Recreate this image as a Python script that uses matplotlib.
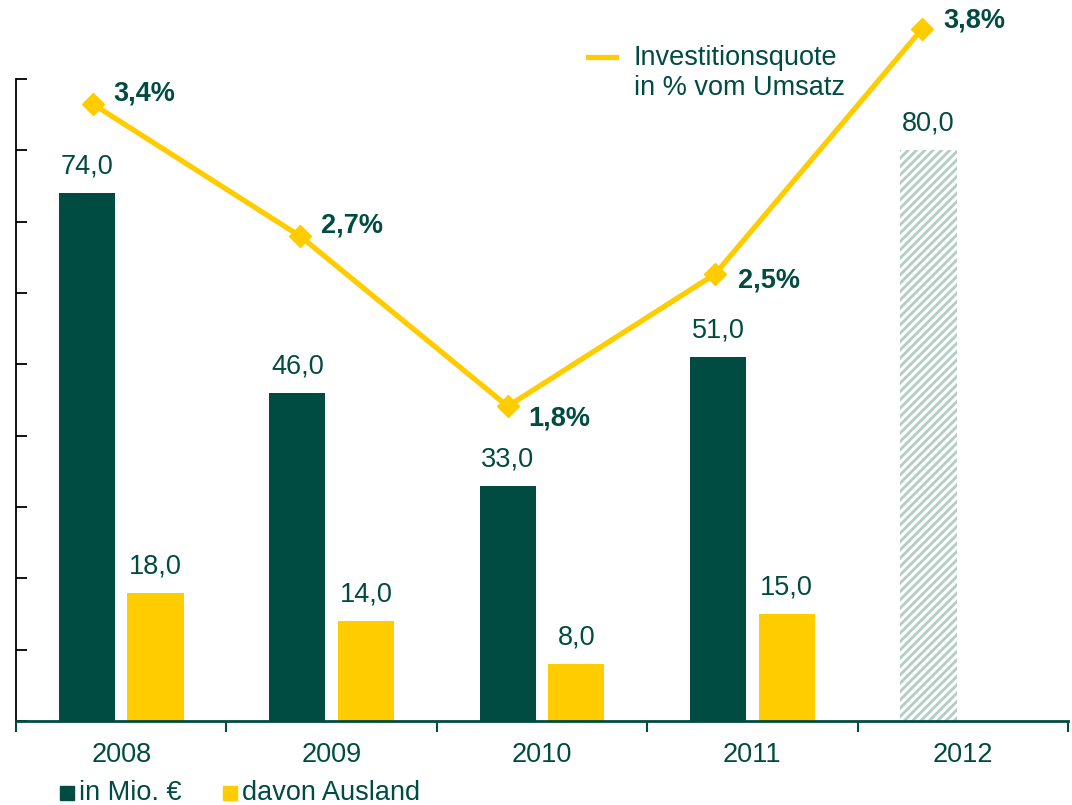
import numpy as np
import matplotlib
matplotlib.use("Agg")
import matplotlib.pyplot as plt
from matplotlib.patches import Rectangle
from matplotlib.lines import Line2D

plt.rcParams['font.family'] = ['Liberation Sans', 'DejaVu Sans']

# ----- data -----
years = ["2008", "2009", "2010", "2011", "2012"]
invest_total = [74.0, 46.0, 33.0, 51.0, 80.0]   # in Mio. €
invest_abroad = [18.0, 14.0, 8.0, 15.0]          # davon Ausland (no 2012 value)
quote_pct = [3.4, 2.7, 1.8, 2.5, 3.8]            # Investitionsquote in % vom Umsatz
planned = [False, False, False, False, True]     # 2012 drawn hatched

# label offsets for the percent labels (pixels)
pct_offsets = [(20, 11), (21, 11), (21, -12), (23, -6), (21, 8)]

GREEN = "#004b42"
YELLOW = "#ffcc00"
HATCH = "#b3ccc4"
FS = 19.5

W, H = 1072, 805
fig = plt.figure(figsize=(W / 100, H / 100), dpi=100)
ax = fig.add_axes([16 / W, (H - 721) / H, (1068 - 16) / W, (721 - 79) / H])

x = np.arange(len(years))
bw = 0.267
off = 0.163

# dark bars
for i, v in enumerate(invest_total):
    if planned[i]:
        plt.rcParams['hatch.linewidth'] = 2.0
        ax.bar(x[i] - off, v, bw, color="white", edgecolor=HATCH, hatch="////", linewidth=0)
    else:
        ax.bar(x[i] - off, v, bw, color=GREEN, linewidth=0)
    ax.text(x[i] - off, v + 1.9, f"{v:.1f}".replace(".", ","), ha="center", va="bottom",
            fontsize=FS, color=GREEN)

# yellow bars
for i, v in enumerate(invest_abroad):
    ax.bar(x[i] + off, v, bw, color=YELLOW, linewidth=0)
    ax.text(x[i] + off, v + 1.9, f"{v:.1f}".replace(".", ","), ha="center", va="bottom",
            fontsize=FS, color=GREEN)

ax.set_xlim(-0.5, len(years) - 0.5)
ax.set_ylim(0, 90)
ax.set_yticks(np.arange(0, 91, 10))
ax.set_yticklabels([])
ax.tick_params(axis="y", direction="in", length=8, width=1.3, color="black")
ax.set_xticks(np.arange(-0.5, len(years), 1.0), minor=False)
ax.set_xticklabels([])
ax.tick_params(axis="x", direction="out", length=8, width=1.5, color=GREEN)
ax.set_xticks(x, minor=True)
ax.set_xticklabels(years, minor=True, fontsize=FS, color=GREEN)
ax.tick_params(axis="x", which="minor", length=0, pad=15)
for s in ["top", "right"]:
    ax.spines[s].set_visible(False)
ax.spines["left"].set_color("black")
ax.spines["left"].set_linewidth(1.3)
ax.spines["bottom"].set_color(GREEN)
ax.spines["bottom"].set_linewidth(2)

# secondary axis for the quote line
ax2 = ax.twinx()
ax2.set_ylim(0.1325, 3.534)
ax2.axis("off")
lx = x - off + 0.015 * (2 - x)
ax2.plot(lx, quote_pct, color=YELLOW, lw=3.8, marker="D", markersize=11,
         clip_on=False, zorder=5)
for i, p in enumerate(quote_pct):
    ax2.annotate(f"{p:.1f}%".replace(".", ","), (lx[i], p), xytext=pct_offsets[i],
                 textcoords="offset pixels", ha="left", va="center",
                 fontsize=FS, fontweight="bold", color=GREEN, annotation_clip=False)

# legend for the line (top)
fig.add_artist(Line2D([588 / W, 616 / W], [1 - 57 / H, 1 - 57 / H], color=YELLOW, lw=3.8))
fig.text(634 / W, 1 - 45 / H, "Investitionsquote\nin % vom Umsatz", ha="left", va="top",
         fontsize=FS, color=GREEN, linespacing=1.2)

# legend for the bars (bottom)
fig.add_artist(Rectangle((60 / W, 1 - 800 / H), 14 / W, 14 / H, color=GREEN,
                         transform=fig.transFigure))
fig.text(79 / W, 1 - 793 / H, "in Mio. €", ha="left", va="center", fontsize=FS, color=GREEN)
fig.add_artist(Rectangle((223 / W, 1 - 800 / H), 14 / W, 14 / H, color=YELLOW,
                         transform=fig.transFigure))
fig.text(242 / W, 1 - 793 / H, "davon Ausland", ha="left", va="center", fontsize=FS, color=GREEN)

fig.savefig("out.png", dpi=100)
